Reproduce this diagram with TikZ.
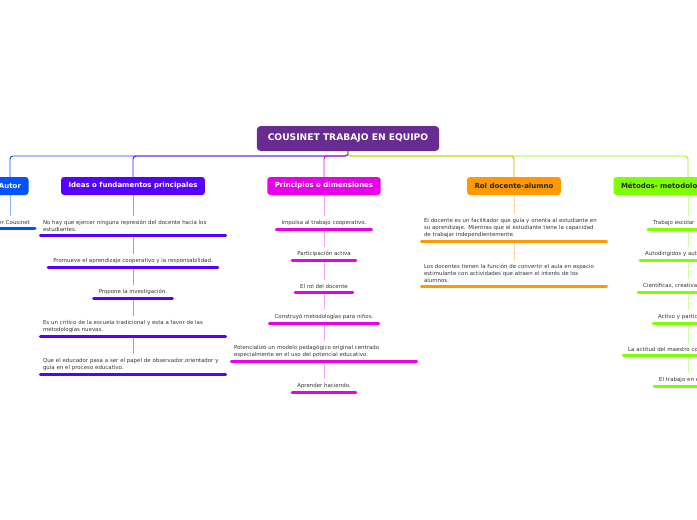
\documentclass[tikz,border=0pt]{standalone}
\usepackage{fontspec}
\setmainfont{DejaVu Sans}
\definecolor{TitlePurple}{RGB}{104, 43, 145}
\definecolor{AutorBlue}{RGB}{0, 82, 255}
\definecolor{IdeasPurple}{RGB}{88, 0, 255}
\definecolor{PrincMagenta}{RGB}{232, 0, 232}
\definecolor{RolOrange}{RGB}{255, 153, 0}
\definecolor{MetGreen}{RGB}{128, 255, 0}

\begin{document}
\begin{tikzpicture}[x=1pt, y=-1pt,
    titlebox/.style={fill=TitlePurple, text=white, rounded corners=4pt, minimum height=25pt, inner xsep=11pt, font=\fontsize{9.15}{10}\selectfont\bfseries},
    branch/.style={rounded corners=3pt, text=white, minimum height=18pt, inner xsep=7.5pt, font=\fontsize{7}{8}\selectfont\bfseries},
    idea/.style={anchor=south, text=black!80, inner xsep=5pt, inner ysep=3.6pt, font=\fontsize{5.45}{7}\selectfont},
    longidea/.style={idea, text width=180pt, inner xsep=2.5pt, align=left},
    cutidea/.style={idea, anchor=south west, text width=90pt, align=left},
    link/.style={line width=0.9pt, rounded corners=3pt},
    sublink/.style={line width=0.8pt},
    uline/.style={line width=3pt, line cap=round}]

      % Page frame
      \useasboundingbox (0,0) rectangle (697,520);
      \clip (0,0) rectangle (697,520);

      % Title
      \node[titlebox] (title) at (348,138.5) {COUSINET TRABAJO EN EQUIPO};
      \coordinate (hub) at (348,156);

      % Branches
      \node[branch, fill=AutorBlue] (autor) at (10,186) {Autor};
      \node[branch, fill=IdeasPurple] (ideas) at (133,186) {Ideas o fundamentos principales};
      \node[branch, fill=PrincMagenta] (princ) at (324,186) {Principios o dimensiones};
      \node[branch, fill=RolOrange, text=black!85] (rol) at (514,186) {Rol docente-alumno};
      \node[branch, fill=MetGreen, text=black!85, text width=134pt, align=left] (metodos) at (688,186) {Métodos- metodolo};

      % Links from the title
      \draw[link, AutorBlue] (title.south) -- (hub) -| (autor.north);
      \draw[link, IdeasPurple] (title.south) -- (hub) -| (ideas.north);
      \draw[link, PrincMagenta] (title.south) -- (hub) -| (princ.north);
      \draw[link, RolOrange] (title.south) -- (hub) -| (rol.north);
      \draw[link, MetGreen] (title.south) -- (hub) -| (metodos.north);

      % Autor
      \node[idea, anchor=south east, text width=50pt, align=right] (a1) at (35,228) {er Cousinet};
      \draw[sublink, AutorBlue!45] (autor.south) -- (a1.north -| autor.south);
      \draw[uline, AutorBlue] (a1.south west) -- (a1.south east);

      % Ideas o fundamentos principales
      \node[longidea] (i1) at (133,235) {No hay que ejercer ninguna represión del docente hacia los\\estudiantes.};
      \node[idea] (i2) at (133,267) {Promueve el aprendizaje cooperativo y la responsabilidad.};
      \node[idea] (i3) at (133,298) {Propone la investigación.};
      \node[longidea] (i4) at (133,336) {Es un crítico de la escuela tradicional y esta a favor de las\\metodologías nuevas.};
      \node[longidea] (i5) at (133,374) {Que el educador pasa a ser el papel de observador,orientador y\\guía en el proceso educativo.};
      \foreach \a/\b in {ideas/i1, i1/i2, i2/i3, i3/i4, i4/i5}
        \draw[sublink, IdeasPurple!45] (\a.south) -- (\b.north);
      \foreach \n in {i1, i2, i3, i4, i5}
        \draw[uline, IdeasPurple] (\n.south west) -- (\n.south east);

      % Principios o dimensiones
      \node[idea] (p1) at (324,229) {Impulsa al trabajo cooperativo.};
      \node[idea] (p2) at (324,260) {Participación activa};
      \node[idea] (p3) at (324,292) {El rol del docente};
      \node[idea] (p4) at (324,323) {Construyó metodologías para niños.};
      \node[longidea] (p5) at (324,361) {Potencializó un modelo pedagógico original centrado\\especialmente en el uso del potencial educativo.};
      \node[idea] (p6) at (324,392) {Aprender haciendo.};
      \foreach \a/\b in {princ/p1, p1/p2, p2/p3, p3/p4, p4/p5, p5/p6}
        \draw[sublink, PrincMagenta!35] (\a.south) -- (\b.north);
      \foreach \n in {p1, p2, p3, p4, p5, p6}
        \draw[uline, PrincMagenta] (\n.south west) -- (\n.south east);

      % Rol docente-alumno
      \node[longidea] (r1) at (514,241) {El docente es un facilitador que guía y orienta al estudiante en\\su aprendizaje. Mientras que el estudiante tiene la capacidad\\de trabajar independientemente.};
      \node[longidea] (r2) at (514,286) {Los docentes tienen la función de convertir el aula en espacio\\estimulante con actividades que atraen el interés de los\\alumnos.};
      \foreach \a/\b in {rol/r1, r1/r2}
        \draw[sublink, RolOrange!40] (\a.south) -- (\b.north);
      \foreach \n in {r1, r2}
        \draw[uline, RolOrange] (\n.south west) -- (\n.south east);

      % Metodos
      \node[cutidea] (m1) at (648,229) {Trabajo escolar};
      \node[cutidea] (m2) at (640,260) {Autodirigidos y aut};
      \node[cutidea] (m3) at (638,292) {Científicas, creativa};
      \node[cutidea] (m4) at (653,323) {Activo y partic};
      \node[cutidea] (m5) at (623,355) {La actitud del maestro co};
      \node[cutidea] (m6) at (654,386) {El trabajo en e};
      \foreach \a/\b in {metodos/m1, m1/m2, m2/m3, m3/m4, m4/m5, m5/m6}
        \draw[sublink, MetGreen!40] (\a.south -| metodos.south) -- (\b.north -| metodos.south);
      \foreach \n in {m1, m2, m3, m4, m5, m6}
        \draw[uline, MetGreen] (\n.south west) -- (\n.south east);
    \end{tikzpicture}
\end{document}
